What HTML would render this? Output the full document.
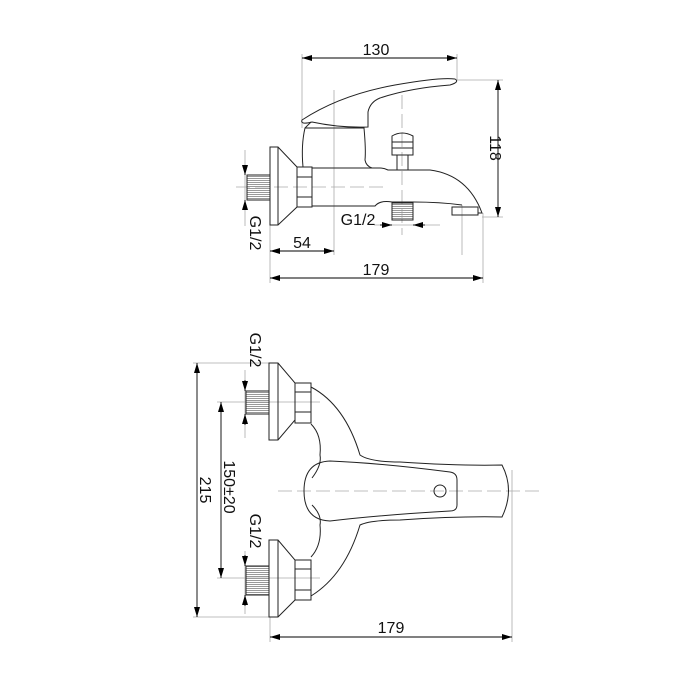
<!DOCTYPE html>
<html><head><meta charset="utf-8"><style>
html,body{margin:0;padding:0;background:#fff;}
svg{display:block;}
text{font-family:"Liberation Sans",Arial,sans-serif;font-size:16px;fill:#111;}
</style></head><body>
<svg width="700" height="700" viewBox="0 0 700 700" xmlns="http://www.w3.org/2000/svg">
<defs>
<marker id="a" viewBox="0 0 10 6" refX="10" refY="3" markerWidth="10" markerHeight="6" orient="auto-start-reverse" markerUnits="userSpaceOnUse"><path d="M0,0 L10,3 L0,6z" fill="#000"/></marker>
<pattern id="th" width="2" height="2" patternUnits="userSpaceOnUse"><rect width="2" height="1" fill="#999"/></pattern>
</defs>
<g fill="none" stroke="#aaa" stroke-width="0.8">
<line x1="302" y1="54" x2="302" y2="128"/>
<line x1="457" y1="54" x2="457" y2="80"/>
<line x1="457" y1="80" x2="503" y2="80"/>
<line x1="482" y1="217" x2="503" y2="217"/>
<line x1="270" y1="225" x2="270" y2="283"/>
<line x1="334" y1="90" x2="334" y2="255"/>
<line x1="462" y1="205" x2="462" y2="255"/>
<line x1="483" y1="213" x2="483" y2="283"/>
<line x1="245" y1="150" x2="245" y2="226"/>
<line x1="374" y1="225" x2="440" y2="225"/>
<line x1="236" y1="187" x2="385" y2="187" stroke-dasharray="14,5"/>
<line x1="402" y1="95" x2="402" y2="235" stroke-dasharray="14,5"/>
<line x1="193" y1="363" x2="270" y2="363"/>
<line x1="193" y1="617" x2="270" y2="617"/>
<line x1="217" y1="402" x2="320" y2="402"/>
<line x1="217" y1="578" x2="320" y2="578"/>
<line x1="245" y1="370" x2="245" y2="438"/>
<line x1="245" y1="551" x2="245" y2="614"/>
<line x1="270" y1="617" x2="270" y2="642"/>
<line x1="512" y1="470" x2="512" y2="642"/>
<line x1="278" y1="491" x2="540" y2="491" stroke-dasharray="14,5"/>
</g>
<g fill="none" stroke="#000" stroke-width="0.9">
<line x1="302" y1="58" x2="457" y2="58" marker-start="url(#a)" marker-end="url(#a)"/>
<line x1="498" y1="80" x2="498" y2="217" marker-start="url(#a)" marker-end="url(#a)"/>
<line x1="270" y1="251" x2="334" y2="251" marker-start="url(#a)" marker-end="url(#a)"/>
<line x1="270" y1="278" x2="483" y2="278" marker-start="url(#a)" marker-end="url(#a)"/>
<line x1="245" y1="165" x2="245" y2="175" marker-end="url(#a)"/>
<line x1="245" y1="210" x2="245" y2="200" marker-end="url(#a)"/>
<line x1="380" y1="225" x2="392" y2="225" marker-end="url(#a)"/>
<line x1="425" y1="225" x2="413" y2="225" marker-end="url(#a)"/>
<line x1="197" y1="363" x2="197" y2="617" marker-start="url(#a)" marker-end="url(#a)"/>
<line x1="221" y1="402" x2="221" y2="578" marker-start="url(#a)" marker-end="url(#a)"/>
<line x1="270" y1="637" x2="512" y2="637" marker-start="url(#a)" marker-end="url(#a)"/>
<line x1="245" y1="380" x2="245" y2="391" marker-end="url(#a)"/>
<line x1="245" y1="425" x2="245" y2="414" marker-end="url(#a)"/>
<line x1="245" y1="555" x2="245" y2="566" marker-end="url(#a)"/>
<line x1="245" y1="606" x2="245" y2="595" marker-end="url(#a)"/>
</g>
<g fill="none" stroke="#222" stroke-width="1">
<path d="M270,147 L278,147 L297,167 L297,207 L278,225 L270,225 Z"/>
<line x1="278" y1="147" x2="278" y2="225"/>
<rect x="247" y="175" width="23" height="25" fill="url(#th)"/>
<path d="M297,167 L312,167 L312,207 L297,207 Z M297,177 L312,177 M297,197 L312,197"/>
<path d="M312,168 L380,168 Q384,168 388,170 L430,170 Q468,175 482,213 L478,213"/>
<path d="M312,206 L375,206 Q380,200 392,202 L413,202 Q440,202 462,205"/>
<rect x="452" y="207" width="26" height="8"/>
<path d="M303,167 Q301,145 305,128 L364,128 Q366,150 365,160 Q366,166 372,168"/>
<path d="M302,120 Q340,95 395,85 Q440,77 455,79 Q460,82 450,85 Q410,88 380,98 Q370,102 368,112 L368,127 Q340,128 312,122 Q300,125 302,120 Z"/>
<path d="M305,128 L311,122"/>
<path d="M397,155 L397,170 M408,155 L408,170"/>
<path d="M392,136 Q402,130 413,136 L413,155 L392,155 Z M392,142 L413,142 M392,148 L413,148"/>
<rect x="392" y="203" width="21" height="17" fill="url(#th)"/>
<path d="M269,363 L278,363 L295,383 L295,420 L278,440 L269,440 Z"/>
<line x1="278" y1="363" x2="278" y2="440"/>
<rect x="246" y="391" width="23" height="23" fill="url(#th)"/>
<path d="M295,383 L311,383 L311,423 L295,423 Z M295,392 L311,392 M295,412 L311,412"/>
<path d="M269,540 L278,540 L295,560 L295,600 L278,617 L269,617 Z"/>
<line x1="278" y1="540" x2="278" y2="617"/>
<rect x="246" y="566" width="23" height="29" fill="url(#th)"/>
<path d="M295,560 L311,560 L311,600 L295,600 Z M295,569 L311,569 M295,590 L311,590"/>
<path d="M311,387 Q345,405 360,455 Q370,462 400,462 Q460,466 502,465 Q515,490 502,517 Q460,516 400,520 Q370,520 360,525 Q345,575 311,596"/>
<path d="M311,424 Q322,435 320,455 Q322,465 312,478"/>
<path d="M311,557 Q322,545 320,525 Q322,515 312,505"/>
<path d="M330,461 Q380,463 450,472 Q457,473 457,480 L457,505 Q457,511 450,511 Q380,515 330,521 Q304,520 304,491 Q304,462 330,461 Z"/>
<circle cx="440" cy="491" r="6"/>
</g>
<text x="376" y="55" text-anchor="middle">130</text>
<text x="302" y="248" text-anchor="middle">54</text>
<text x="376" y="275" text-anchor="middle">179</text>
<text x="358" y="225" text-anchor="middle">G1/2</text>
<text x="391" y="633" text-anchor="middle">179</text>
<text transform="translate(490,148) rotate(90)" text-anchor="middle">118</text>
<text transform="translate(250,233) rotate(90)" text-anchor="middle">G1/2</text>
<text transform="translate(250,350) rotate(90)" text-anchor="middle">G1/2</text>
<text transform="translate(250,531) rotate(90)" text-anchor="middle">G1/2</text>
<text transform="translate(200,490) rotate(90)" text-anchor="middle">215</text>
<text transform="translate(224,487) rotate(90)" text-anchor="middle">150±20</text>
</svg>
</body></html>
